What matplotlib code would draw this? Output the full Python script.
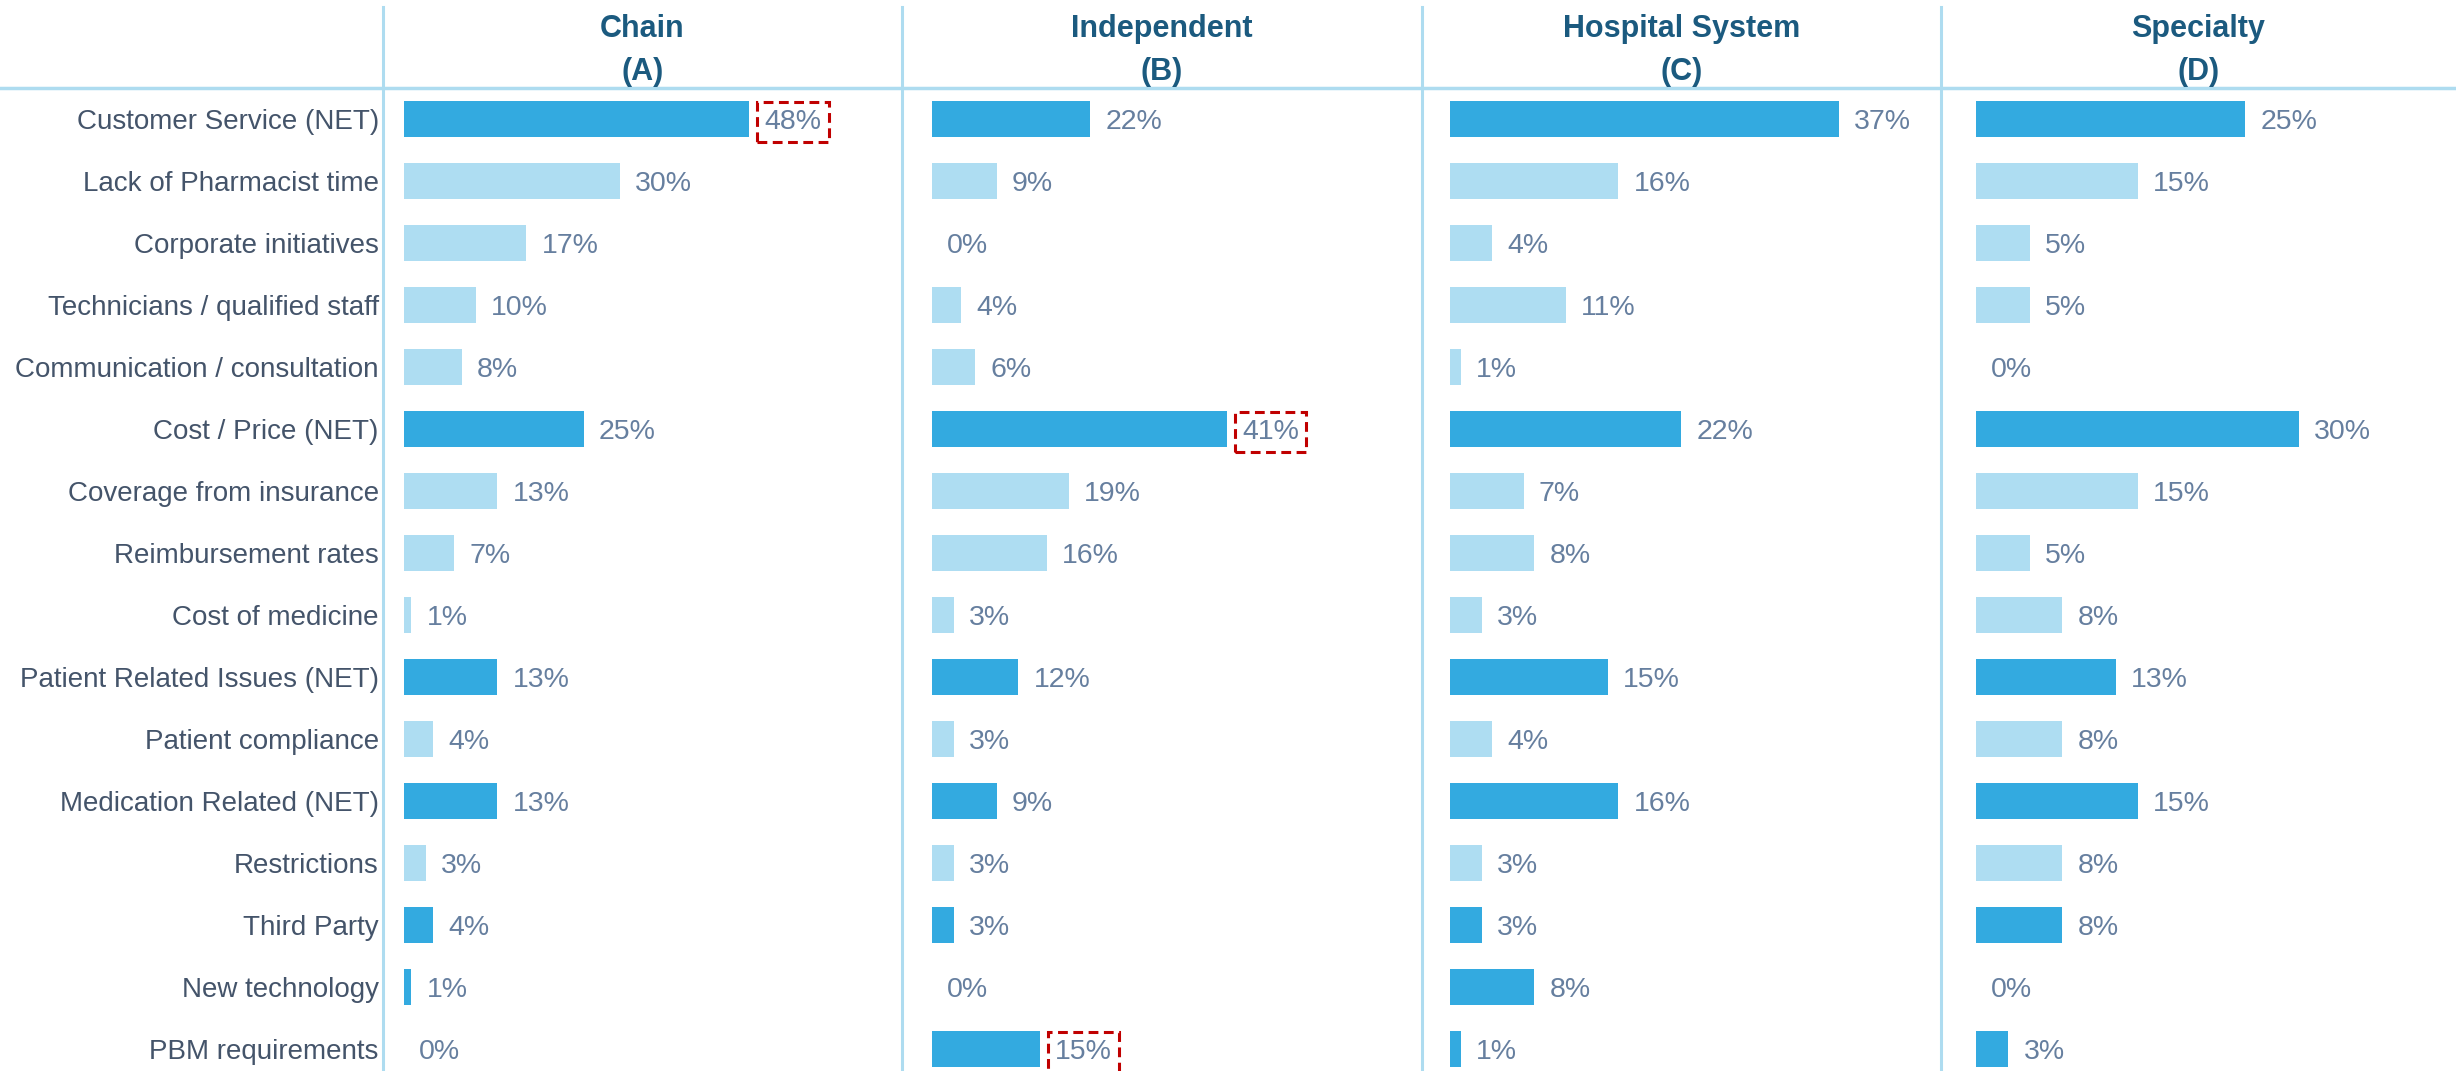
import matplotlib
matplotlib.use("Agg")
from matplotlib import pyplot as plt
from matplotlib.lines import Line2D

plt.rcParams['font.family'] = ['Liberation Sans', 'DejaVu Sans']

# data
categories = ["Customer Service (NET)", "Lack of Pharmacist time", "Corporate initiatives",
              "Technicians / qualified staff", "Communication / consultation", "Cost / Price (NET)",
              "Coverage from insurance", "Reimbursement rates", "Cost of medicine",
              "Patient Related Issues (NET)", "Patient compliance", "Medication Related (NET)",
              "Restrictions", "Third Party", "New technology", "PBM requirements"]
is_net = [1, 0, 0, 0, 0, 1, 0, 0, 0, 1, 0, 1, 0, 1, 1, 1]

panel_titles = ["Chain", "Independent", "Hospital System", "Specialty"]
panel_letters = ["(A)", "(B)", "(C)", "(D)"]

chain = [48, 30, 17, 10, 8, 25, 13, 7, 1, 13, 4, 13, 3, 4, 1, 0]
independent = [22, 9, 0, 4, 6, 41, 19, 16, 3, 12, 3, 9, 3, 3, 0, 15]
hospital = [37, 16, 4, 11, 1, 22, 7, 8, 3, 15, 4, 16, 3, 3, 8, 1]
specialty = [25, 15, 5, 5, 0, 30, 15, 5, 8, 13, 8, 15, 8, 8, 0, 3]
series = [chain, independent, hospital, specialty]

# highlighted labels: (panel, row)
highlights = [(0, 0), (1, 5), (1, 15)]

# layout (pixels)
W, H = 2456, 1071
line_x = [383, 902, 1422, 1941, W]
px_per_pct = [7.19, 7.19, 10.51, 10.77]
bar_offset = [21, 30, 28, 35]
header_y = 88
row0_y, row_step = 119, 62

DARK = "#33AAE0"
LIGHT = "#AEDDF2"
GRID = "#AEDCF0"
VAL_COL = "#667F9F"
CAT_COL = "#44546A"
HEAD_COL = "#1B5A7F"

fig = plt.figure(figsize=(W / 100, H / 100), dpi=100)

y_top = (header_y - row0_y) / row_step
y_bot = (H - row0_y) / row_step
rows = list(range(len(categories)))

for k, vals in enumerate(series):
    left, right = line_x[k], line_x[k + 1]
    ax = fig.add_axes([left / W, 0, (right - left) / W, (H - header_y) / H])
    colors = [DARK if n else LIGHT for n in is_net]
    ax.barh(rows, vals, height=0.58, color=colors)
    ax.set_xlim(-bar_offset[k] / px_per_pct[k], (right - left - bar_offset[k]) / px_per_pct[k])
    ax.set_ylim(y_bot, y_top)
    for s in ax.spines.values():
        s.set_visible(False)
    ax.set_xticks([])
    if k == 0:
        ax.set_yticks(rows)
        ax.set_yticklabels(categories, fontsize=20, color=CAT_COL)
        ax.tick_params(axis='y', length=0, pad=3)
    else:
        ax.set_yticks([])
    for i, v in enumerate(vals):
        box = None
        if (k, i) in highlights:
            box = dict(boxstyle='square,pad=0.25', fc='none', ec='#C00000',
                       lw=2.2, ls=(0, (3.2, 1.8)))
        ax.annotate(f"{v}%", (v, i), xytext=(11, 0), textcoords='offset points',
                    va='center_baseline', ha='left', fontsize=20.5, color=VAL_COL, bbox=box,
                    annotation_clip=False)

    cx = (left + right) / 2 / W
    fig.text(cx, 1 - 37 / H, panel_titles[k], ha='center', va='baseline',
             fontsize=22, fontweight='bold', color=HEAD_COL)
    fig.text(cx, 1 - 80 / H, panel_letters[k], ha='center', va='baseline',
             fontsize=22, fontweight='bold', color=HEAD_COL)

# separator lines
for x in line_x[:4]:
    fig.add_artist(Line2D([x / W, x / W], [0, 1 - 7 / H], transform=fig.transFigure,
                          color=GRID, lw=2.2))
fig.add_artist(Line2D([0, 1], [1 - header_y / H, 1 - header_y / H], transform=fig.transFigure,
                      color=GRID, lw=2.5))

fig.savefig("out.png", dpi=100)
